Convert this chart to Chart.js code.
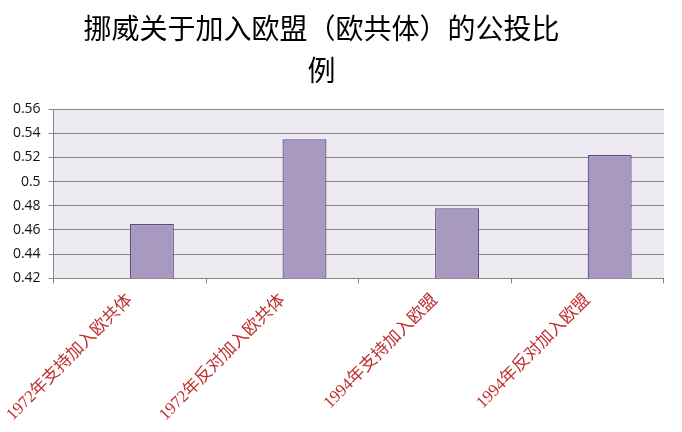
<!DOCTYPE html>
<html>
<head>
<meta charset="utf-8">
<script src="https://cdn.jsdelivr.net/npm/chart.js@4"></script>
<style>
  html, body { margin: 0; padding: 0; background: #fff; }
  #wrap { width: 682px; height: 432px; }
</style>
</head>
<body>
<div id="wrap"><canvas id="chart"></canvas></div>
<script>
const categories = [
  "1972年支持加入欧共体",
  "1972年反对加入欧共体",
  "1994年支持加入欧盟",
  "1994年反对加入欧盟",
];
// the original sheet had an empty first series, so the bars sit right of centre
const blankSeries = [null, null, null, null];
const shareValues = [0.465, 0.535, 0.478, 0.522];
const yTicks = [0.42, 0.44, 0.46, 0.48, 0.5, 0.52, 0.54, 0.56];

const plotBackground = {
  id: "plotBackground",
  beforeDraw(c) {
    const { ctx, chartArea: a } = c;
    ctx.save();
    ctx.fillStyle = "#edebf1";
    ctx.fillRect(a.left, a.top, a.right - a.left, a.bottom - a.top);
    ctx.restore();
  },
};

// the title in the original sits a little left of the middle
const titleShift = {
  id: "titleShift",
  afterLayout(c) {
    if (c.titleBlock) {
      c.titleBlock.left -= 11;
      c.titleBlock.right -= 11;
    }
  },
};

const chart = document.querySelector("#chart").getContext("2d");

new Chart(chart, {
  type: "bar",
  data: {
    labels: categories,
    datasets: [
      {
        label: "",
        data: blankSeries,
      },
      {
        label: "比例",
        data: shareValues,
        backgroundColor: "#a799c0",
        borderColor: "#5b4a7d",
        borderWidth: 1.2,
        borderSkipped: false,
      },
    ],
  },
  options: {
    responsive: true,
    maintainAspectRatio: false,
    animation: false,
    categoryPercentage: 0.576,
    barPercentage: 1,
    layout: { padding: { left: 1, right: 18, top: 7, bottom: 0 } },
    plugins: {
      legend: { display: false },
      tooltip: { enabled: false },
      title: {
        display: true,
        text: ["挪威关于加入欧盟（欧共体）的公投比", "例"],
        color: "#000",
        font: { family: "'Noto Sans CJK SC', sans-serif", size: 28, weight: "normal", lineHeight: 1.5 },
        padding: { top: 0, bottom: 18 },
      },
    },
    scales: {
      x: {
        afterFit(axis) {
          axis.paddingLeft = Math.max(0, axis.paddingLeft - 4);
        },
        grid: {
          offset: true,
          drawOnChartArea: false,
          color: "#868686",
          tickLength: 5,
        },
        border: { color: "#868686" },
        ticks: {
          minRotation: 45,
          maxRotation: 45,
          autoSkip: false,
          color: "#bf2f2f",
          padding: 7,
          font: { family: "'Liberation Serif', 'Noto Sans CJK SC', serif", size: 17 },
        },
      },
      y: {
        min: 0.42,
        max: 0.56,
        afterBuildTicks(axis) {
          axis.ticks = yTicks.map((v) => ({ value: v }));
        },
        grid: { color: "#868686", tickLength: 5 },
        border: { color: "#868686" },
        ticks: {
          color: "#111",
          padding: 8,
          font: { family: "'Open Sans', 'DejaVu Sans', sans-serif", size: 14 },
          callback: (v) => String(Math.round(v * 100) / 100),
        },
      },
    },
  },
  plugins: [plotBackground, titleShift],
});
</script>
</body>
</html>
